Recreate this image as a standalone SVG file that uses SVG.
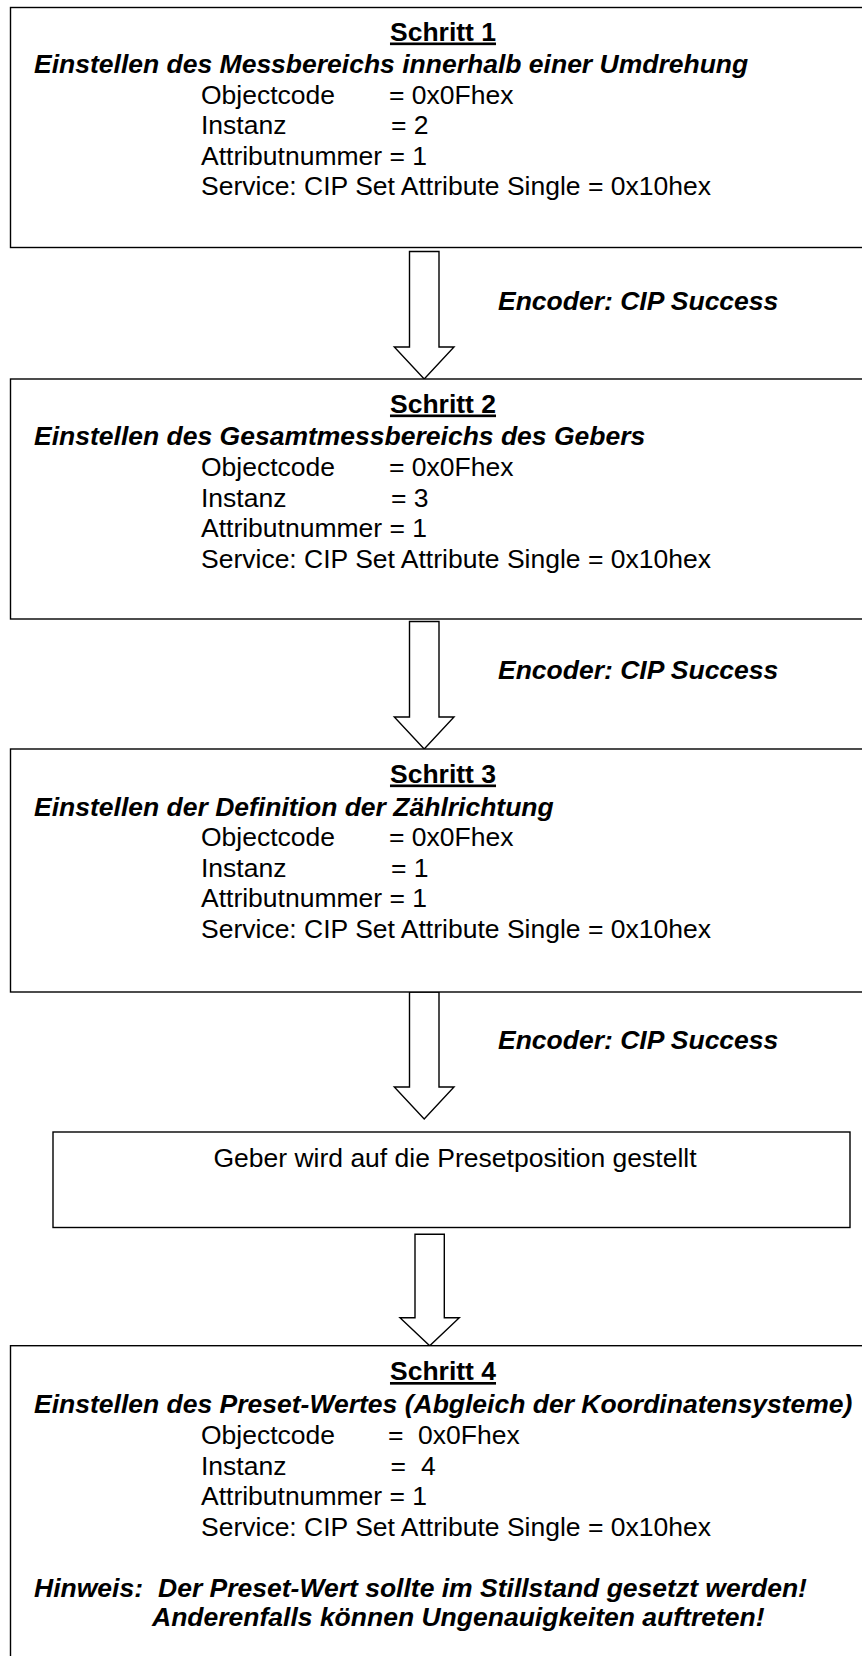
<svg xmlns="http://www.w3.org/2000/svg" width="862" height="1656" viewBox="0 0 862 1656">
<style>
text{font-family:"Liberation Sans",Arial,sans-serif;font-size:26.5px;fill:#000}
.t{font-weight:bold;text-decoration:underline;text-anchor:middle}
.bi{font-weight:bold;font-style:italic}
.box{fill:#fff;stroke:#000;stroke-width:1.4}
.arr{fill:#fff;stroke:#000;stroke-width:1.4;stroke-linejoin:miter}
</style>
<rect width="862" height="1656" fill="#fff"/>
<g id="connectors">
<polygon class="arr" points="409.5,251.5 439,251.5 439,347 454,347 424.2,379 394.3,347 409.5,347"/>
<polygon class="arr" points="409.5,621.5 439,621.5 439,717 454,717 424.2,749 394.3,717 409.5,717"/>
<polygon class="arr" points="409.5,992 439,992 439,1087 454,1087 424.2,1119 394.3,1087 409.5,1087"/>
<polygon class="arr" points="415,1234.3 444.3,1234.3 444.3,1317.7 459.3,1317.7 429.7,1345.7 400,1317.7 415,1317.7"/>
<text class="bi" x="498" y="310">Encoder: CIP Success</text>
<text class="bi" x="498" y="679">Encoder: CIP Success</text>
<text class="bi" x="498" y="1049">Encoder: CIP Success</text>
</g>
<g id="step1">
<rect class="box" x="10.5" y="7.5" width="880" height="240"/>
<text class="t" x="443" y="40.5">Schritt 1</text>
<text class="bi" x="34" y="72.5">Einstellen des Messbereichs innerhalb einer Umdrehung</text>
<text x="201" y="103.5">Objectcode<tspan x="389">= 0x0Fhex</tspan></text>
<text x="201" y="134">Instanz<tspan x="391">= 2</tspan></text>
<text x="201" y="164.5">Attributnummer = 1</text>
<text x="201" y="195">Service: CIP Set Attribute Single = 0x10hex</text>
</g>
<g id="step2">
<rect class="box" x="10.5" y="379" width="880" height="240"/>
<text class="t" x="443" y="412.5">Schritt 2</text>
<text class="bi" x="34" y="445">Einstellen des Gesamtmessbereichs des Gebers</text>
<text x="201" y="476">Objectcode<tspan x="389">= 0x0Fhex</tspan></text>
<text x="201" y="506.5">Instanz<tspan x="391">= 3</tspan></text>
<text x="201" y="537">Attributnummer = 1</text>
<text x="201" y="567.5">Service: CIP Set Attribute Single = 0x10hex</text>
</g>
<g id="step3">
<rect class="box" x="10.5" y="749" width="880" height="243"/>
<text class="t" x="443" y="782.5">Schritt 3</text>
<text class="bi" x="34" y="815.5">Einstellen der Definition der Zählrichtung</text>
<text x="201" y="846">Objectcode<tspan x="389">= 0x0Fhex</tspan></text>
<text x="201" y="876.5">Instanz<tspan x="391">= 1</tspan></text>
<text x="201" y="907">Attributnummer = 1</text>
<text x="201" y="937.5">Service: CIP Set Attribute Single = 0x10hex</text>
</g>
<g id="preset">
<rect class="box" x="53" y="1132" width="797" height="95.5"/>
<text x="455" y="1167" text-anchor="middle">Geber wird auf die Presetposition gestellt</text>
</g>
<g id="step4">
<rect class="box" x="10.5" y="1345.7" width="880" height="400"/>
<text class="t" x="443" y="1380">Schritt 4</text>
<text class="bi" x="34" y="1413">Einstellen des Preset-Wertes (Abgleich der Koordinatensysteme)</text>
<text x="201" y="1443.5">Objectcode<tspan x="388">=</tspan><tspan x="418">0x0Fhex</tspan></text>
<text x="201" y="1474.5">Instanz<tspan x="390.5">=</tspan><tspan x="421">4</tspan></text>
<text x="201" y="1505">Attributnummer = 1</text>
<text x="201" y="1535.5">Service: CIP Set Attribute Single = 0x10hex</text>
<text class="bi" x="34" y="1596.5">Hinweis:<tspan x="158">Der Preset-Wert sollte im Stillstand gesetzt werden!</tspan></text>
<text class="bi" x="152" y="1626">Anderenfalls können Ungenauigkeiten auftreten!</text>
</g>
</svg>
